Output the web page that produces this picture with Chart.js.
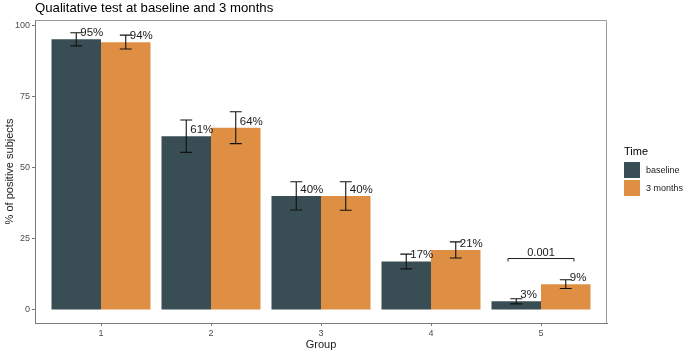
<!DOCTYPE html>
<html>
<head>
<meta charset="utf-8">
<script src="https://cdn.jsdelivr.net/npm/chart.js@4.4.1/dist/chart.umd.min.js"></script>
<style>
  html, body { margin: 0; padding: 0; background: #fff; }
  #wrap { width: 685px; height: 353px; position: relative; }
</style>
</head>
<body>
<div id="wrap"><canvas id="chart"></canvas></div>
<script>
// ── Data ────────────────────────────────────────
const groups = [1, 2, 3, 4, 5];
const seriesNames = ['baseline', '3 months'];
const baselineValues = [95, 61, 40, 17, 3];
const monthsValues = [94, 64, 40, 21, 9];
const baselineLow = [92.7, 55.3, 35.1, 14.4, 2.1];
const baselineHigh = [97.3, 66.7, 45.0, 19.6, 3.9];
const monthsLow = [91.6, 58.4, 35.0, 18.2, 7.5];
const monthsHigh = [96.5, 69.6, 45.0, 23.9, 10.6];
const yTicks = [0, 25, 50, 75, 100];

// significance bracket between the two bars of one group
const sigGroup = 5;
const sigLevel = 18.1;
const sigLabel = '0.001';

const colors = ['#384E54', '#DF8F44'];
const FONT = '"Liberation Sans", Arial, sans-serif';

// ── Helpers ─────────────────────────────────────
const toPoints = vals => vals.map((v, i) => ({ x: groups[i], y: v }));

// error bars, value labels, bracket, title and legend
const decorations = {
    id: 'decorations',
    afterDatasetsDraw(chart) {
        const { ctx, scales: { x, y }, chartArea } = chart;
        const lows = [baselineLow, monthsLow];
        const highs = [baselineHigh, monthsHigh];
        const vals = [baselineValues, monthsValues];

        ctx.save();
        // panel top/right border
        ctx.strokeStyle = '#9a9a9a';
        ctx.lineWidth = 1;
        ctx.beginPath();
        ctx.moveTo(chartArea.left, chartArea.top + 0.5);
        ctx.lineTo(chartArea.right - 0.5, chartArea.top + 0.5);
        ctx.lineTo(chartArea.right - 0.5, chartArea.bottom);
        ctx.stroke();

        chart.data.datasets.forEach((ds, di) => {
            const meta = chart.getDatasetMeta(di);
            meta.data.forEach((bar, j) => {
                const cx = bar.x;
                const half = bar.width * 0.12;
                const yl = y.getPixelForValue(lows[di][j]);
                const yh = y.getPixelForValue(highs[di][j]);
                ctx.strokeStyle = '#111';
                ctx.lineWidth = 1.1;
                ctx.beginPath();
                ctx.moveTo(cx, yl); ctx.lineTo(cx, yh);
                ctx.moveTo(cx - half, yl); ctx.lineTo(cx + half, yl);
                ctx.moveTo(cx - half, yh); ctx.lineTo(cx + half, yh);
                ctx.stroke();

                ctx.fillStyle = '#1a1a1a';
                ctx.font = '11.5px ' + FONT;
                ctx.textAlign = 'left';
                ctx.textBaseline = 'alphabetic';
                ctx.fillText(vals[di][j] + '%', cx + 4, y.getPixelForValue(vals[di][j]) - 3);
            });
        });

        // bracket
        const bx1 = x.getPixelForValue(sigGroup - 0.3);
        const bx2 = x.getPixelForValue(sigGroup + 0.3);
        const by = Math.round(y.getPixelForValue(sigLevel)) + 0.5;
        ctx.strokeStyle = '#222';
        ctx.lineWidth = 1;
        ctx.beginPath();
        ctx.moveTo(bx1, by + 3); ctx.lineTo(bx1, by);
        ctx.lineTo(bx2, by); ctx.lineTo(bx2, by + 3);
        ctx.stroke();
        ctx.fillStyle = '#1a1a1a';
        ctx.font = '11px ' + FONT;
        ctx.textAlign = 'center';
        ctx.fillText(sigLabel, (bx1 + bx2) / 2, by - 2.5);

        // title
        ctx.fillStyle = '#000';
        ctx.font = '13.2px ' + FONT;
        ctx.textAlign = 'left';
        ctx.textBaseline = 'middle';
        ctx.fillText('Qualitative test at baseline and 3 months', chartArea.left, 8);

        // legend
        const lx = chartArea.right + 17;
        ctx.font = '11px ' + FONT;
        ctx.fillText('Time', lx, 152);
        seriesNames.forEach((name, i) => {
            ctx.fillStyle = colors[i];
            ctx.fillRect(lx, 162 + i * 18, 16, 16);
            ctx.fillStyle = '#1a1a1a';
            ctx.font = '9px ' + FONT;
            ctx.fillText(name, lx + 22, 170.5 + i * 18);
        });
        ctx.restore();
    }
};

// ── Chart ───────────────────────────────────────
new Chart(document.getElementById('chart'), {
    type: 'bar',
    data: {
        datasets: [
            { label: seriesNames[0], data: toPoints(baselineValues), backgroundColor: colors[0] },
            { label: seriesNames[1], data: toPoints(monthsValues), backgroundColor: colors[1] }
        ]
    },
    options: {
        responsive: true,
        maintainAspectRatio: false,
        animation: false,
        events: [],
        categoryPercentage: 0.9,
        barPercentage: 1.0,
        layout: { padding: { top: 20, right: 78, left: 0, bottom: 0 } },
        plugins: {
            legend: { display: false },
            tooltip: { enabled: false }
        },
        scales: {
            x: {
                type: 'linear',
                min: 0.4,
                max: 5.6,
                offset: false,
                afterBuildTicks: scale => { scale.ticks = groups.map(v => ({ value: v })); },
                afterFit: scale => { scale.height = 30; },
                grid: { drawOnChartArea: false, offset: false, tickLength: 3, color: '#7a7a7a' },
                border: { color: '#7a7a7a', width: 1 },
                ticks: { color: '#4d4d4d', font: { family: FONT, size: 9 }, padding: 2, maxRotation: 0 },
                title: { display: true, text: 'Group', color: '#1a1a1a', font: { family: FONT, size: 11 }, padding: { top: 0, bottom: 1 } }
            },
            y: {
                min: -4.6,
                max: 101.8,
                afterBuildTicks: scale => { scale.ticks = yTicks.map(v => ({ value: v })); },
                afterFit: scale => { scale.width = 35; },
                grid: { drawOnChartArea: false, tickLength: 3, color: '#7a7a7a' },
                border: { color: '#7a7a7a', width: 1 },
                ticks: { color: '#4d4d4d', font: { family: FONT, size: 9 }, padding: 2 },
                title: { display: true, text: '% of positive subjects', color: '#1a1a1a', font: { family: FONT, size: 11 }, padding: { top: 3, bottom: 0 } }
            }
        }
    },
    plugins: [decorations]
});
</script>
</body>
</html>
